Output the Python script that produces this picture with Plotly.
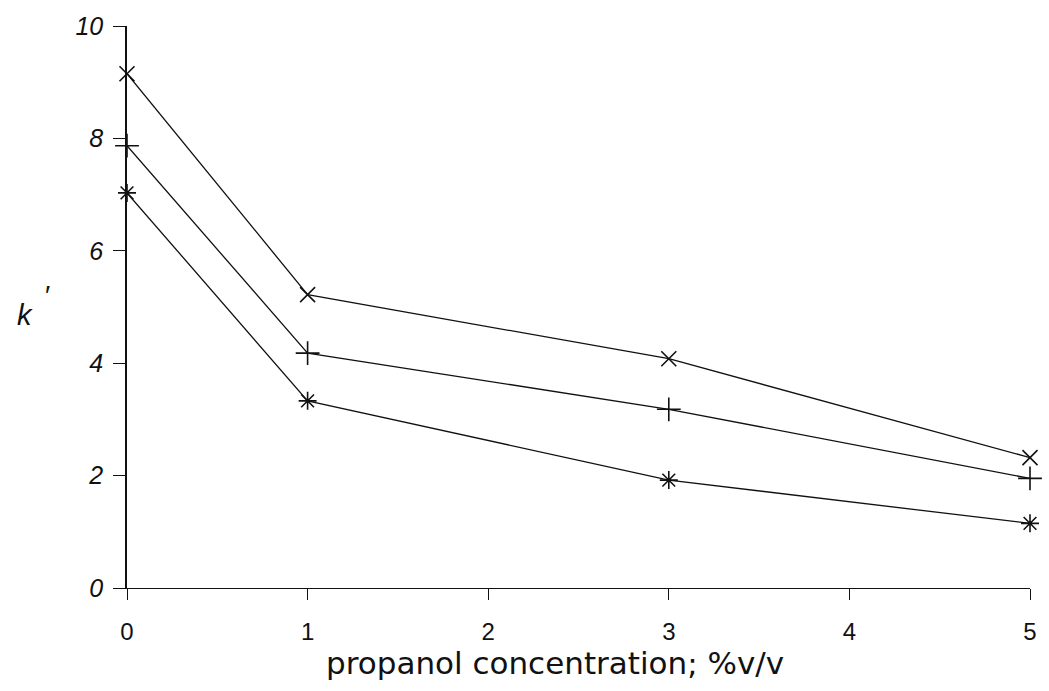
import plotly.graph_objects as go

# propanol concentration (%v/v) and capacity factors for three solutes
concentration = [0, 1, 3, 5]
k_series_x = [9.15, 5.22, 4.08, 2.32]
k_series_plus = [7.87, 4.18, 3.18, 1.95]
k_series_star = [7.03, 3.33, 1.92, 1.15]

x_ticks = [0, 1, 2, 3, 4, 5]
y_ticks = [0, 2, 4, 6, 8, 10]

series = [
    (k_series_x, "x-thin", 15),
    (k_series_plus, "cross-thin", 17),
    (k_series_star, "asterisk-open", 15),
]

fig = go.Figure()
for values, symbol, size in series:
    fig.add_trace(go.Scatter(
        x=concentration, y=values, mode="lines+markers",
        line=dict(color="#111", width=1.3),
        marker=dict(symbol=symbol, size=size, color="#111",
                    line=dict(color="#111", width=1.6)),
        cliponaxis=False, showlegend=False,
    ))
# empty trace so the overlay axis carrying the tick marks is drawn
fig.add_trace(go.Scatter(x=[], y=[], xaxis="x2", showlegend=False, hoverinfo="skip"))

fig.update_layout(
    width=1049, height=691,
    margin=dict(l=127, r=12, t=25, b=103),
    plot_bgcolor="white", paper_bgcolor="white",
    font=dict(family="Liberation Sans, Arial, sans-serif", color="#111"),
    # labels sit on the main axis, pushed down by transparent long ticks
    xaxis=dict(
        range=[0, 5], tickvals=x_ticks, ticktext=[str(v) for v in x_ticks],
        showgrid=False, zeroline=False, showline=True, linecolor="#111", linewidth=1.3,
        ticks="outside", ticklen=22, tickcolor="rgba(0,0,0,0)",
        tickfont=dict(size=24),
    ),
    # visible short tick marks
    xaxis2=dict(
        range=[0, 5], tickvals=x_ticks, overlaying="x", anchor="y", side="bottom",
        showgrid=False, zeroline=False, showline=False, showticklabels=False,
        ticks="outside", ticklen=11, tickwidth=1.3, tickcolor="#111",
    ),
    yaxis=dict(
        range=[0, 10], tickvals=y_ticks, ticktext=[str(v) for v in y_ticks],
        showgrid=False, zeroline=False, showline=True, linecolor="#111", linewidth=1.6,
        ticks="outside", ticklen=12, tickwidth=1.3, tickcolor="#111",
        tickfont=dict(size=25, style="italic"), ticklabelstandoff=5,
    ),
)

# axis titles
fig.add_annotation(
    xref="paper", yref="paper", x=0.474, y=-0.133, yanchor="middle", showarrow=False,
    text="propanol concentration; %v/v",
    font=dict(size=31, family="DejaVu Sans, sans-serif"),
)
fig.add_annotation(
    xref="paper", yref="paper", x=-0.124, y=0.485, yanchor="middle", showarrow=False,
    text="<i>k</i>", font=dict(size=29, family="Liberation Sans, sans-serif"),
)
fig.add_annotation(
    xref="paper", yref="paper", x=-0.093, y=0.52, yanchor="middle", showarrow=False,
    text="′", font=dict(size=28, family="Liberation Sans, sans-serif"),
)

fig.write_html("out.html")
